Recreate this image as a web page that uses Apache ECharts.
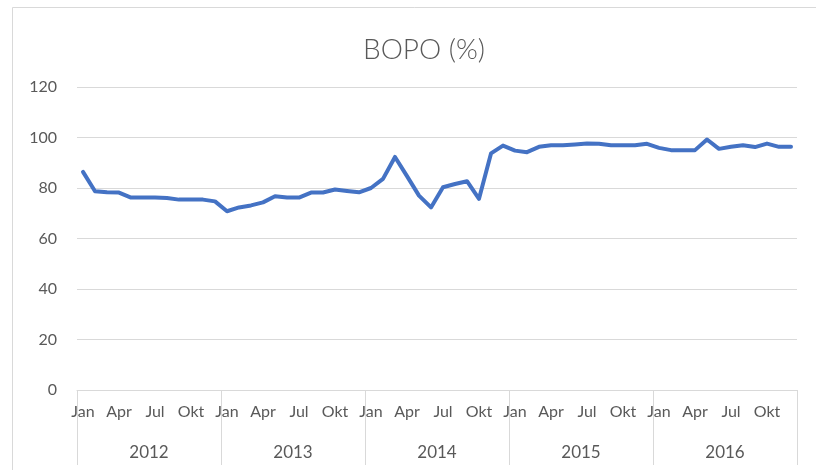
<!DOCTYPE html>
<html>
<head>
<meta charset="utf-8">
<script src="https://cdn.jsdelivr.net/npm/echarts@6/dist/echarts.min.js"></script>
<style>
html,body{margin:0;padding:0;background:#fff;}
#chart{width:816px;height:470px;}
</style>
</head>
<body>
<div id="chart"></div>
<script>
const years = ['2012', '2013', '2014', '2015', '2016'];
const monthNames = ['Jan','Feb','Mar','Apr','Mei','Jun','Jul','Agu','Sep','Okt','Nov','Des'];
const bopo2012 = [86.4, 78.7, 78.3, 78.2, 76.2, 76.2, 76.2, 76.0, 75.4, 75.4, 75.4, 74.7];
const bopo2013 = [70.8, 72.3, 73.1, 74.3, 76.7, 76.2, 76.2, 78.2, 78.2, 79.4, 78.8, 78.3];
const bopo2014 = [80.0, 83.6, 92.3, 84.7, 77.0, 72.3, 80.3, 81.6, 82.7, 75.7, 93.7, 96.8];
const bopo2015 = [94.8, 94.2, 96.3, 96.9, 96.9, 97.2, 97.6, 97.5, 96.9, 96.9, 96.9, 97.5];
const bopo2016 = [95.9, 95.0, 95.0, 95.0, 99.2, 95.5, 96.3, 96.9, 96.2, 97.6, 96.3, 96.3];
const yTicks = [0, 20, 40, 60, 80, 100, 120];

const months = [];
years.forEach(() => monthNames.forEach(m => months.push(m)));
const values = [].concat(bopo2012, bopo2013, bopo2014, bopo2015, bopo2016);

const FONT = 'Lato, "Open Sans", sans-serif';
const GRAY = '#595959';
const LINE = '#d9d9d9';

const chart = echarts.init(document.getElementById('chart'));
chart.setOption({
  animation: false,
  backgroundColor: '#fff',
  title: {
    text: 'BOPO (%)',
    left: 419,
    top: 31,
    textAlign: 'center',
    textStyle: {fontFamily: FONT, fontSize: 28, fontWeight: 300, color: GRAY}
  },
  graphic: [{
    type: 'rect',
    shape: {x: 12.5, y: 7.5, width: 900, height: 700},
    style: {fill: 'none', stroke: LINE, lineWidth: 1},
    silent: true, z: -1
  }],
  grid: {left: 77, right: 19, top: 87, bottom: 80, containLabel: false},
  xAxis: [{
    type: 'category',
    data: months,
    boundaryGap: true,
    position: 'bottom',
    axisLine: {show: false},
    axisTick: {show: false},
    axisLabel: {
      interval: (i) => i % 3 === 0,
      margin: 14,
      fontFamily: FONT, fontSize: 16, color: GRAY
    },
    splitLine: {show: false}
  }, {
    type: 'category',
    data: years,
    boundaryGap: true,
    position: 'bottom',
    axisLine: {show: true, lineStyle: {color: LINE, width: 1}},
    axisTick: {show: true, interval: 0, length: 75, lineStyle: {color: LINE, width: 1}},
    axisLabel: {interval: 0, margin: 54, fontFamily: FONT, fontSize: 17, color: GRAY},
    splitLine: {show: false}
  }],
  yAxis: {
    type: 'value',
    min: yTicks[0],
    max: yTicks[yTicks.length - 1],
    interval: 20,
    axisLine: {show: false},
    axisTick: {show: false},
    axisLabel: {margin: 20, fontFamily: FONT, fontSize: 16, color: GRAY},
    splitLine: {show: true, lineStyle: {color: LINE, width: 1}}
  },
  series: [{
    type: 'line',
    xAxisIndex: 0,
    data: values,
    showSymbol: false,
    symbol: 'none',
    lineStyle: {color: '#4472C4', width: 4, join: 'round', cap: 'round'},
    itemStyle: {color: '#4472C4'}
  }]
});
</script>
</body>
</html>
